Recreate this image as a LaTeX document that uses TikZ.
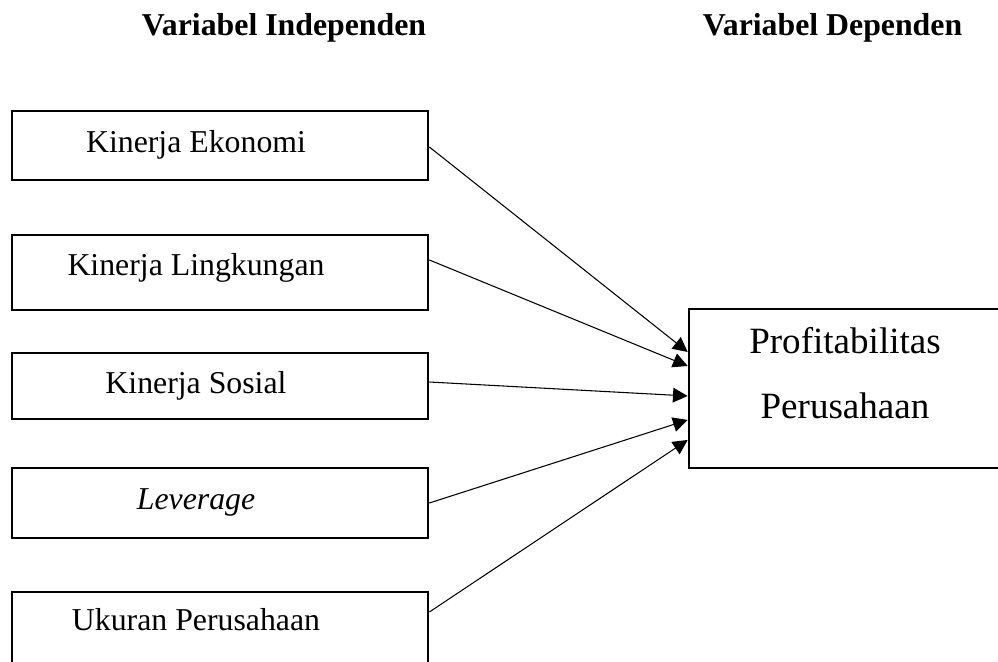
\documentclass[tikz,border=0pt]{standalone}
\usepackage{fontspec}
\setmainfont{Liberation Serif}
\usetikzlibrary{arrows.meta}
\begin{document}
\begin{tikzpicture}[x=0.75pt,y=-0.75pt,
  varbox/.style={draw=black,line width=2pt,rectangle,inner sep=0pt,minimum width=312pt},
  lbl/.style={anchor=base,inner sep=0pt,font=\fontsize{23.85}{28}\selectfont},
  biglbl/.style={anchor=base,inner sep=0pt,font=\fontsize{27.8}{32}\selectfont},
  head/.style={anchor=base,inner sep=0pt,font=\fontsize{23.85}{28}\selectfont\bfseries},
  conn/.style={line width=0.8pt,-{Triangle[length=11pt,width=11pt]}}]
\useasboundingbox (0,0) rectangle (998,661);
\clip (0,0) rectangle (998,661);
\node[head] (h1) at (284,35) {Variabel Independen};
\node[head] (h2) at (832.5,35) {Variabel Dependen};
\node[varbox,minimum height=51.75pt] (b1) at (220,145.5) {};
\node[varbox,minimum height=56.25pt] (b2) at (220,272.5) {};
\node[varbox,minimum height=49.5pt] (b3) at (220,386) {};
\node[varbox,minimum height=52.5pt] (b4) at (220,503) {};
\node[varbox,minimum height=60pt] (b5) at (220,632) {};
\node[lbl] (t1) at (196,152) {Kinerja Ekonomi};
\node[lbl] (t2) at (196,275) {Kinerja Lingkungan};
\node[lbl] (t3) at (196,393) {Kinerja Sosial};
\node[lbl] (t4) at (196,509) {\itshape Leverage};
\node[lbl] (t5) at (196,630) {Ukuran Perusahaan};
\node[draw=black,line width=2pt,rectangle,inner sep=0pt,minimum width=240.75pt,minimum height=119.25pt] (p) at (849.5,388.5) {};
\node[biglbl] (pt1) at (845,353) {Profitabilitas};
\node[biglbl] (pt2) at (845,418) {Perusahaan};
\draw[conn] ([yshift=-1.1pt]b1.east) -- ([yshift=27.4pt]p.west);
\draw[conn] ([yshift=9.4pt]b2.east) -- ([yshift=16.9pt]p.west);
\draw[conn] ([yshift=3pt]b3.east) -- ([yshift=-5.6pt]p.west);
\draw[conn] (b4.east) -- ([yshift=-23.6pt]p.west);
\draw[conn] ([yshift=15pt]b5.east) -- ([yshift=-38.6pt]p.west);
\end{tikzpicture}
\end{document}
